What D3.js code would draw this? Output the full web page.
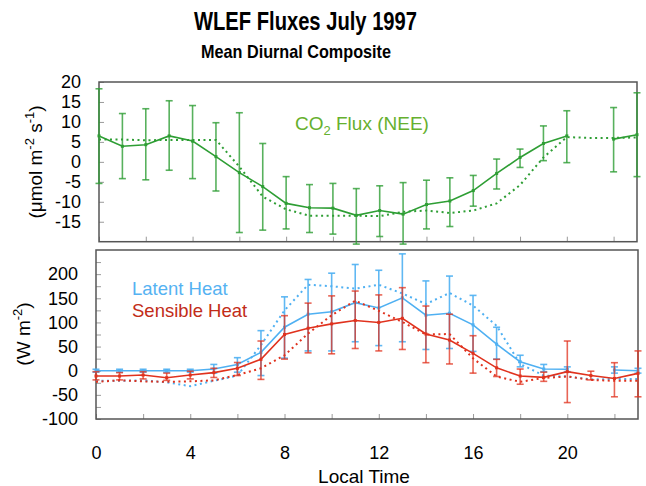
<!DOCTYPE html>
<html>
<head>
<meta charset="utf-8">
<script src="https://cdn.jsdelivr.net/npm/d3@7/dist/d3.min.js"></script>
<style>
body { margin: 0; background: #fff; }
svg { font-family: "Liberation Sans", Arial, sans-serif; }
.tick line { stroke: #9a9a9a; }
</style>
</head>
<body>
<svg id="chart" width="646" height="486"></svg>
<script>
// hour of day
var hours = [0, 1, 2, 3, 4, 5, 6, 7, 8, 9, 10, 11, 12, 13, 14, 15, 16, 17, 18, 19, 20, 21, 22, 23];

// CO2 flux (NEE), umol m-2 s-1 ; null = missing hour
var co2Mean = [6.5, 3.9, 4.3, 6.5, 5.2, 1.3, -2.7, -6.2, -10.4, -11.5, -11.6, -13.4, -12.2, -13.1, -10.7, -9.8, -7.2, -2.9, 1.1, 4.6, 6.5, null, 5.7, 6.8];
var co2Hi   = [18.3, 12.1, 13.3, 15.3, 14.1, 9.8, 12.3, 4.6, -3.7, -5.7, -5.4, -6.7, -6.0, -5.2, -4.6, -4.0, -3.4, 0.7, 3.2, 9.0, 12.8, null, 13.6, 17.3];
var co2Lo   = [-5.4, -4.2, -4.5, -2.1, -4.2, -7.3, -17.7, -17.1, -16.8, -17.7, -18.1, -20.6, -18.7, -20.6, -16.8, -16.2, -11.1, -6.8, -1.4, 0.3, -0.2, null, -2.5, -3.7];
var co2Dot  = [5.6, 5.6, 5.4, 5.5, 5.5, 5.5, -1.2, -8.7, -11.9, -13.5, -13.5, -13.5, -13.6, -12.5, -12.2, -12.8, -12.2, -10.4, -5.8, 1.1, 6.2, 6.0, 6.0, 6.1];

// latent heat, W m-2
var leMean = [0, 0, 0, 0, 0, 3.5, 13, 38, 90, 117, 122, 141, 130, 151, 115, 119, 95, 55, 18.6, 3.5, 3, null, 1.5, 0];
var leHi   = [3, 3, 3, 3, 3, 13, 27, 83, 153, 189, 202, 220, 208, 242, 186, 196, 156, 90, 32, 13, 8, null, 8, 5];
var leLo   = [-3, -3, -3, -3, -3, -5, -3, -10, 26, 41, 41, 60, 52, 60, 44, 46, 40, 24, 8, -2, -2, null, -5, -5];
var leDot  = [-21, -21, -20, -24, -32, -21, -10, 53, 125, 178, 175, 170, 178, 160, 138, 161, 135, 93, 14, -10, -12, -18, -17, -17];

// sensible heat, W m-2
var shMean = [-11, -11, -9, -14.5, -9, -4, 5, 23.6, 75, 88, 97, 104, 100, 108.5, 76, 63.6, 36, 6, -11, -13.7, -2, -10, -16, -5.5];
var shHi   = [-2, -4, -2, -5, -1, 5, 17, 61.5, 114, 140, 155, 165, 157, 172, 134, 117, 72.5, 23.6, 3.5, -3, 61.5, -1, 16.6, 41];
var shLo   = [-19, -19, -17, -20, -17, -14, -10, -18, 24, 37, 35, 46, 41, 44, 16.6, 14, -5, -12, -28, -22, -66, -19, -54, -54];
var shDot  = [-23, -20, -22, -23, -22, -20, -9, 5, 32, 77, 115, 145, 124, 101, 75, 76, 25.6, -12, -23, -15, -12, -19, -21, -21];

var svg = d3.select("#chart");

// plain hyphen minus, like the original
function fmt(d) { return String(d); }

// one framed panel: scales, inner ticks, box
function makePanel(left, right, top, bottom, ydom, labelTicks, minorTicks, showX) {
  var x = d3.scaleLinear().domain([0, 23]).range([left, right]);
  var y = d3.scaleLinear().domain(ydom).range([bottom, top]);
  var g = svg.append("g");

  // minor y ticks
  g.append("g")
      .attr("transform", "translate(" + left + ",0)")
      .call(d3.axisLeft(y).tickValues(minorTicks).tickSize(-5).tickFormat(""))
      .call(function(a) { a.select(".domain").remove(); });

  // labelled y ticks
  g.append("g")
      .attr("transform", "translate(" + left + ",0)")
      .call(d3.axisLeft(y).tickValues(labelTicks).tickSize(-5).tickPadding(18).tickFormat(fmt))
      .call(function(a) { a.select(".domain").remove(); })
      .selectAll("text")
      .attr("font-size", 18)
      .attr("fill", "#000");

  // x ticks every 2 h, labels every 4 h
  var xa = g.append("g")
      .attr("transform", "translate(0," + bottom + ")")
      .call(d3.axisBottom(x).tickValues([0, 2, 4, 6, 8, 10, 12, 14, 16, 18, 20, 22]).tickSize(-5)
        .tickPadding(27)
        .tickFormat(function(d) { return showX && d % 4 == 0 ? fmt(d) : ""; }));
  xa.select(".domain").remove();
  xa.selectAll("text").attr("font-size", 18).attr("fill", "#000");

  g.append("rect")
      .attr("x", left).attr("y", top)
      .attr("width", right - left).attr("height", bottom - top)
      .attr("fill", "none")
      .attr("stroke", "#555")
      .attr("stroke-width", 1.5);

  return {g: g, x: x, y: y};
}

// mean line with error bars, plus the dotted comparison line
function drawSeries(p, mean, hi, lo, dot, color, errOpacity) {
  var line = d3.line()
      .defined(function(d) { return d[1] != null; })
      .x(function(d) { return p.x(d[0]); })
      .y(function(d) { return p.y(d[1]); });

  p.g.append("path")
      .datum(hours.map(function(h, i) { return [h, dot[i]]; }))
      .attr("d", line)
      .attr("fill", "none")
      .attr("stroke", color)
      .attr("stroke-width", 2)
      .attr("stroke-dasharray", "2,3.5");

  var pts = hours.map(function(h, i) { return {h: h, m: mean[i], hi: hi[i], lo: lo[i]}; })
      .filter(function(d) { return d.m != null; });

  var eb = p.g.append("g")
      .attr("stroke", color)
      .attr("stroke-opacity", errOpacity)
      .attr("stroke-width", 1.6)
    .selectAll("g")
    .data(pts)
    .enter().append("g");

  eb.append("line")
      .attr("x1", function(d) { return p.x(d.h); })
      .attr("x2", function(d) { return p.x(d.h); })
      .attr("y1", function(d) { return p.y(d.hi); })
      .attr("y2", function(d) { return p.y(d.lo); });

  ["hi", "lo"].forEach(function(k) {
    eb.append("line")
        .attr("x1", function(d) { return p.x(d.h) - 3.5; })
        .attr("x2", function(d) { return p.x(d.h) + 3.5; })
        .attr("y1", function(d) { return p.y(d[k]); })
        .attr("y2", function(d) { return p.y(d[k]); });
  });

  p.g.append("path")
      .datum(hours.map(function(h, i) { return [h, mean[i]]; }))
      .attr("d", line)
      .attr("fill", "none")
      .attr("stroke", color)
      .attr("stroke-width", 1.6);

  p.g.append("g")
      .attr("fill", color)
    .selectAll("rect")
    .data(pts)
    .enter().append("rect")
      .attr("x", function(d) { return p.x(d.h) - 1.5; })
      .attr("y", function(d) { return p.y(d.m) - 1.5; })
      .attr("width", 3)
      .attr("height", 3);
}

// top panel: CO2
var co2Panel = makePanel(99, 637, 82, 241.7, [-20, 20],
    [-15, -10, -5, 0, 5, 10, 15, 20], [], false);
drawSeries(co2Panel, co2Mean, co2Hi, co2Lo, co2Dot, "#2e9e34", 0.8);

// bottom panel: heat fluxes
var heatPanel = makePanel(96, 638, 250, 419, [-100, 250],
    [-100, -50, 0, 50, 100, 150, 200], [-75, -25, 25, 75, 125, 175, 225], true);
drawSeries(heatPanel, leMean, leHi, leLo, leDot, "#4fb0f2", 0.9);
drawSeries(heatPanel, shMean, shHi, shLo, shDot, "#e0321e", 0.75);

// titles (the original face is condensed, so squeeze to its width)
svg.append("text")
    .attr("x", 194).attr("y", 30)
    .attr("font-weight", "bold")
    .attr("font-size", 25)
    .attr("textLength", 223)
    .attr("lengthAdjust", "spacingAndGlyphs")
    .text("WLEF Fluxes July 1997");

svg.append("text")
    .attr("x", 201).attr("y", 58)
    .attr("font-weight", "bold")
    .attr("font-size", 18.5)
    .attr("textLength", 190)
    .attr("lengthAdjust", "spacingAndGlyphs")
    .text("Mean Diurnal Composite");

// in-plot labels
var co2 = svg.append("text")
    .attr("x", 295).attr("y", 129.5)
    .attr("font-size", 19)
    .attr("fill", "#66b02e");
co2.append("tspan").text("CO");
co2.append("tspan").attr("font-size", 13).attr("dy", 5).text("2");
co2.append("tspan").attr("dy", -5).text(" Flux (NEE)");

svg.append("text")
    .attr("x", 132).attr("y", 295)
    .attr("font-size", 18.5)
    .attr("fill", "#55b2f2")
    .text("Latent Heat");

svg.append("text")
    .attr("x", 132).attr("y", 316.5)
    .attr("font-size", 18.5)
    .attr("fill", "#c22c18")
    .text("Sensible Heat");

// axis titles
svg.append("text")
    .attr("x", 364).attr("y", 483)
    .attr("text-anchor", "middle")
    .attr("font-size", 19)
    .text("Local Time");

var yl1 = svg.append("text")
    .attr("transform", "translate(42,162) rotate(-90)")
    .attr("text-anchor", "middle")
    .attr("font-size", 19);
yl1.append("tspan").text("(\u03bcmol m");
yl1.append("tspan").attr("font-size", 13).attr("dy", -8).text("-2");
yl1.append("tspan").attr("dy", 8).text(" s");
yl1.append("tspan").attr("font-size", 13).attr("dy", -8).text("-1");
yl1.append("tspan").attr("dy", 8).text(")");

var yl2 = svg.append("text")
    .attr("transform", "translate(30,334) rotate(-90)")
    .attr("text-anchor", "middle")
    .attr("font-size", 19);
yl2.append("tspan").text("(W m");
yl2.append("tspan").attr("font-size", 13).attr("dy", -8).text("-2");
yl2.append("tspan").attr("dy", 8).text(")");
</script>
</body>
</html>
